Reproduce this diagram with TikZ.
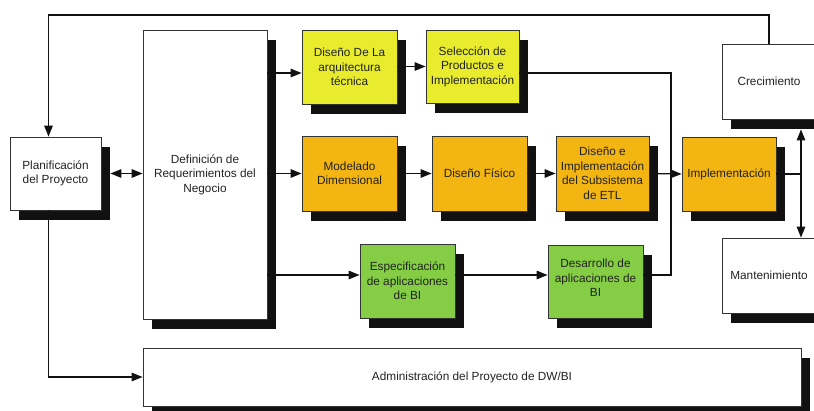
\documentclass[tikz,border=0pt]{standalone}
\usepackage{fontspec}
\setmainfont{Liberation Sans}
\usetikzlibrary{arrows.meta,shadows,calc}
\definecolor{cyel}{HTML}{E8EC2C}
\definecolor{corg}{HTML}{F2B512}
\definecolor{cgrn}{HTML}{84CD44}
\definecolor{cshd}{HTML}{111111}
\definecolor{ctxt}{HTML}{222222}
\definecolor{cln}{HTML}{333333}
\tikzset{
  box/.style={draw=cln, line width=0.8pt, fill=white, align=center, inner sep=1pt,
    font=\fontsize{11.8}{14.5}\selectfont, text=ctxt,
    general shadow={fill=cshd, draw=none, shadow xshift=9pt, shadow yshift=-10pt}},
  ybox/.style={box, fill=cyel},
  obox/.style={box, fill=corg},
  gbox/.style={box, fill=cgrn},
  conn/.style={draw=cshd, line width=1.3pt},
  arr/.style={conn, -{Triangle[length=11pt,width=8.5pt]}},
  darr/.style={conn, {Triangle[length=11pt,width=8.5pt]}-{Triangle[length=11pt,width=8.5pt]}},
}
\begin{document}
\begin{tikzpicture}[x=1pt,y=-1pt]
\useasboundingbox (0,0) rectangle (814,410);
% boxes
\node[box, minimum width=91pt, minimum height=73pt] (plan) at (55.5,173.5) {Planificación\\del Proyecto};
\node[box, minimum width=124pt, minimum height=289pt] (def) at (205,174.5) {Definición de\\Requerimientos del\\Negocio};
\node[ybox, minimum width=95pt, minimum height=74pt] (arq) at (349.5,67) {Diseño De La\\arquitectura\\técnica};
\node[ybox, minimum width=93pt, minimum height=73pt] (sel) at (472.5,66.5) {Selección de\\Productos e\\Implementación};
\node[obox, minimum width=95pt, minimum height=75pt] (mod) at (349.5,173.5) {Modelado\\Dimensional};
\node[obox, minimum width=95pt, minimum height=75pt] (fis) at (479.5,173.5) {Diseño Físico};
\node[obox, minimum width=93pt, minimum height=75pt] (etl) at (602.5,173.5) {Diseño e\\Implementación\\del Subsistema\\de ETL};
\node[obox, minimum width=94pt, minimum height=74pt] (impl) at (729,174) {Implementación};
\node[gbox, minimum width=95pt, minimum height=74pt] (esp) at (407.5,281) {Especificación\\de aplicaciones\\de BI};
\node[gbox, minimum width=95pt, minimum height=73pt] (des) at (595.5,281.5) {Desarrollo de\\aplicaciones de\\BI\\[-7pt]};
\node[box, minimum width=94pt, minimum height=75pt] (crec) at (769,81.5) {Crecimiento};
\node[box, minimum width=94pt, minimum height=75pt] (mant) at (769,275.5) {Mantenimiento};
\node[box, minimum width=658pt, minimum height=58pt] (adm) at (472,377) {Administración del Proyecto de DW/BI};
% helper coordinates
\coordinate (a1) at ($(arq.west)+(0,6)$);
\coordinate (a3) at ($(esp.west)+(0,-6)$);
\coordinate (jn) at (671,174);
\coordinate (rv) at (801,174);
% connectors
\draw[arr] (crec.north) -- (crec.north |- 0,15) -| ([xshift=-7pt]plan.north);
\draw[darr, shorten <=9pt] (plan.east) -- (plan.east -| def.west);
\draw[arr] (def.east |- a1) -- (a1);
\draw[arr] (def.east |- mod.west) -- (mod.west);
\draw[arr] (def.east |- a3) -- (a3);
\draw[arr] (arq.east |- sel.west) -- (sel.west);
\draw[arr] (mod.east) -- (fis.west);
\draw[arr] (fis.east) -- (etl.west);
\draw[arr] (etl.east) -- (impl.west);
\draw[arr] (esp.east |- a3) -- (des.west |- a3);
\draw[conn] (sel.east |- a1) -| (jn) -- (jn |- a3) -- (des.east |- a3);
\draw[conn] (impl.east) -- (rv);
\draw[darr] ($(crec.south -| rv)+(0,10)$) -- (rv |- mant.north);
\draw[arr] ([xshift=-7pt]plan.south) |- (adm.west);
\end{tikzpicture}
\end{document}
